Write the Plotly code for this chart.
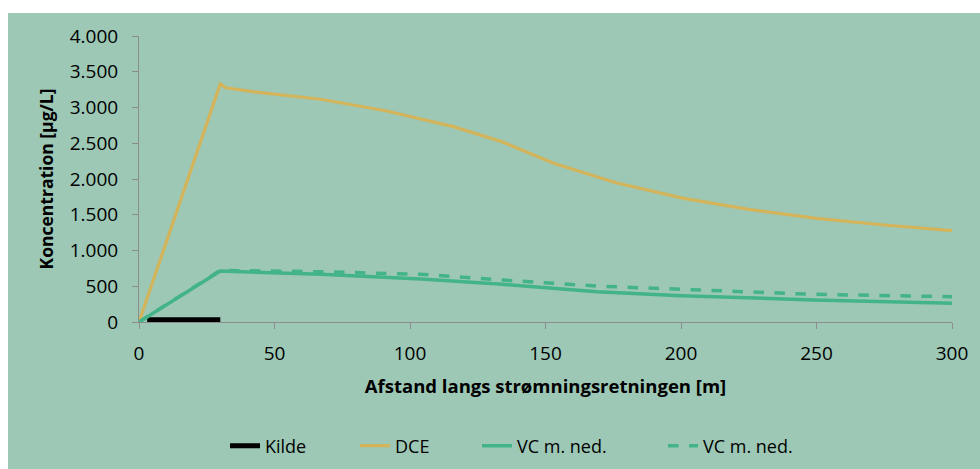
import plotly.graph_objects as go

# Distance along the flow direction [m] and concentrations [µg/L]
kilde_x = [3, 30]
kilde_y = [30, 30]

dce_x = [0, 30, 32, 42, 67, 91, 116, 134, 153, 170, 176, 201, 225, 250, 275, 300]
dce_y = [0, 3330, 3275, 3221, 3115, 2955, 2732, 2522, 2219, 2024, 1948, 1730, 1576, 1450, 1357, 1277]

vc_x = [0, 30, 67, 104, 134, 163, 169, 200, 249, 300]
vc_y = [0, 712, 667, 601, 527, 434, 424, 368, 308, 261]

vc2_x = [0, 30, 67, 104, 134, 163, 169, 200, 249, 300]
vc2_y = [0, 722, 703, 667, 587, 517, 503, 457, 387, 354]

BG = "#9dc8b5"
DCE_COLOR = "#d3b45a"
VC_COLOR = "#43b487"
AXIS_GREY = "#8c8c8c"
FONT = "Open Sans"

L, R, T, B = 139, 28, 36, 147
W, H = 980, 469
pw, ph = W - L - R, H - T - B

# one legend per entry so each entry can sit at its own horizontal spot
legend_text_px = [266, 396, 518, 704]
legend_y_px = 446


def legend_box(px):
    return dict(orientation="h", xref="container", yref="container",
                x=(px - 41) / W, xanchor="left",
                y=1 - legend_y_px / H, yanchor="middle", bgcolor="rgba(0,0,0,0)",
                font=dict(size=18, family=FONT, color="black"))


fig = go.Figure()
fig.add_trace(go.Scatter(x=kilde_x, y=kilde_y, mode="lines", name="Kilde",
                         line=dict(color="black", width=5), legend="legend"))
fig.add_trace(go.Scatter(x=dce_x, y=dce_y, mode="lines", name="DCE",
                         line=dict(color=DCE_COLOR, width=3.2), legend="legend2"))
fig.add_trace(go.Scatter(x=vc_x, y=vc_y, mode="lines", name="VC m. ned.",
                         line=dict(color=VC_COLOR, width=3.5), legend="legend3"))
fig.add_trace(go.Scatter(x=vc2_x, y=vc2_y, mode="lines", name="VC m. ned.",
                         line=dict(color=VC_COLOR, width=3.5, dash="dash"), legend="legend4"))

# green chart panel, leaving a thin white strip at the top and left
fig.add_shape(type="rect", xref="paper", yref="paper", layer="below",
              x0=(8 - L) / pw, x1=(W - L) / pw + 0.01,
              y0=-(H - T - ph) / ph - 0.01, y1=(H - B - 13) / ph,
              fillcolor=BG, line=dict(width=0))

fig.update_layout(
    width=W, height=H,
    margin=dict(l=L, r=R, t=T, b=B, autoexpand=False),
    paper_bgcolor="white",
    plot_bgcolor=BG,
    separators=",.",
    font=dict(family=FONT, color="black", size=18),
    showlegend=True,
    legend=legend_box(legend_text_px[0]),
    legend2=legend_box(legend_text_px[1]),
    legend3=legend_box(legend_text_px[2]),
    legend4=legend_box(legend_text_px[3]),
    xaxis=dict(range=[0, 300], dtick=50, tick0=0, showgrid=False, zeroline=False,
               showline=True, linecolor=AXIS_GREY, linewidth=1, automargin=False,
               ticks="outside", ticklen=6, tickcolor=AXIS_GREY, ticklabelstandoff=8,
               tickfont=dict(size=19, family=FONT),
               title=dict(text="<b>Afstand langs strømningsretningen [m]</b>",
                          font=dict(size=18.5, family=FONT), standoff=15)),
    yaxis=dict(range=[0, 4000], dtick=500, tick0=0, showgrid=False, zeroline=False,
               showline=True, linecolor=AXIS_GREY, linewidth=1, automargin=False,
               ticks="outside", ticklen=6, tickcolor=AXIS_GREY, tickformat=",",
               ticklabelstandoff=10,
               tickfont=dict(size=19, family=FONT),
               title=dict(text="<b>Koncentration [µg/L]</b>",
                          font=dict(size=17.5, family=FONT), standoff=11)),
)

fig.write_html("out.html")
